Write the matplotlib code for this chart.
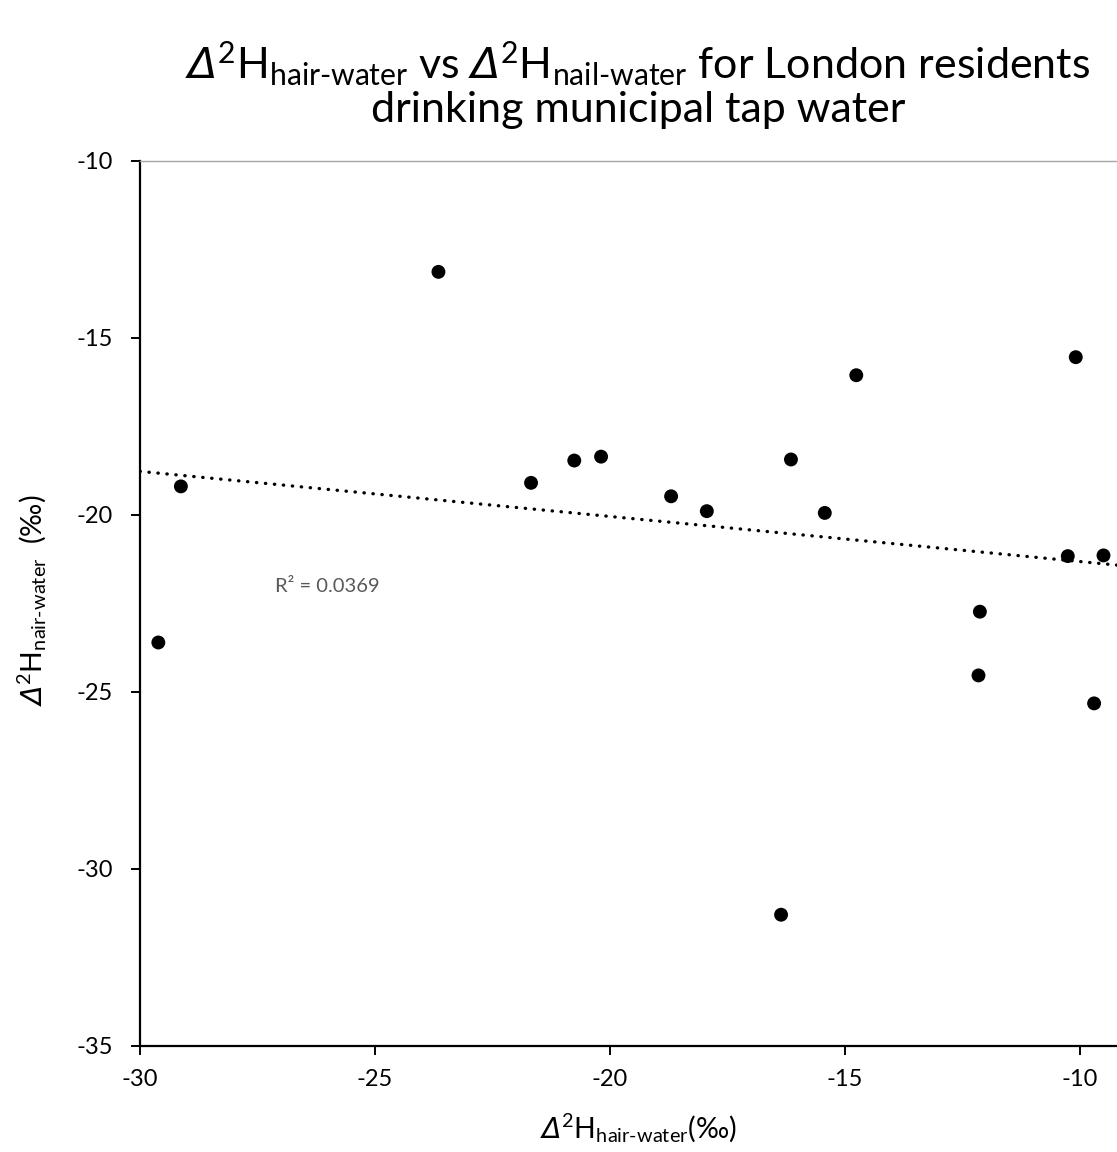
import matplotlib
matplotlib.use('Agg')
import matplotlib.pyplot as plt
import numpy as np

# Δ2H offsets (per mil) for London residents on municipal tap water
hair_water = [-23.65, -29.13, -29.61, -21.68, -20.76, -20.19, -18.70, -17.94, -16.15,
              -15.43, -14.76, -16.36, -10.09, -10.26, -9.50, -12.13, -12.16, -9.70]
nail_water = [-13.14, -19.20, -23.61, -19.10, -18.47, -18.36, -19.48, -19.90, -18.44,
              -19.95, -16.06, -31.30, -15.55, -21.17, -21.15, -22.74, -24.54, -25.33]

x_ticks = [-30, -25, -20, -15, -10]
y_ticks = [-35, -30, -25, -20, -15, -10]
r2_text = "R² = 0.0369"

plt.rcParams['font.family'] = ['Lato', 'DejaVu Sans']
plt.rcParams['mathtext.fontset'] = 'custom'
plt.rcParams['mathtext.rm'] = 'Lato'
plt.rcParams['mathtext.it'] = 'Lato:italic'
# slanted delta goes through the sf slot (mathtext keeps Greek capitals upright in 'it')
plt.rcParams['mathtext.sf'] = 'DejaVu Sans:oblique'
plt.rcParams['mathtext.bf'] = 'Lato:bold'
plt.rcParams['mathtext.fallback'] = 'stixsans'

W, H = 1117, 1152
fig = plt.figure(figsize=(W / 100, H / 100), dpi=100)
left, right, top, bottom = 140, 1117, 160.7, 1045.7
ax = fig.add_axes([left / W, 1 - bottom / H, (right - left) / W, (bottom - top) / H])

x = np.array(hair_water)
y = np.array(nail_water)

ax.set_xlim(-30, -30 + (right - left) / 47.0)
ax.set_ylim(-35, -10)

# linear trend line
slope, intercept = np.polyfit(x, y, 1)
xs = np.array(ax.get_xlim())
ax.plot(xs, slope * xs + intercept, color='black', lw=2.4,
        linestyle=(0, (0.1, 2.6)), dash_capstyle='round', zorder=2)

ax.scatter(x, y, s=100, color='black', edgecolors='none', zorder=3, clip_on=False)

ax.text(-27.13, -22.18, r2_text, color='#595959', fontsize=14.5,
        ha='left', va='baseline')

ax.set_xticks(x_ticks)
ax.set_yticks(y_ticks)
ax.set_xticklabels([str(v) for v in x_ticks])
ax.set_yticklabels([str(v) for v in y_ticks])
ax.tick_params(direction='out', length=6.5, width=1.4, colors='black',
               labelsize=17)
ax.tick_params(axis='x', pad=10)
ax.tick_params(axis='y', pad=13)

for side in ['left', 'bottom']:
    ax.spines[side].set_linewidth(1.6)
    ax.spines[side].set_color('black')
ax.spines['top'].set_linewidth(1.0)
ax.spines['top'].set_color('#a6a6a6')
ax.spines['right'].set_visible(False)

D = r"$\mathsf{Δ}^{2}$"
cx = 638 / W
fig.text(cx, 1 - 1128 / H,
         D + r"H$_{\text{hair-water}}$(‰)",
         ha='center', va='center', fontsize=20.5)
fig.text(32 / W, 1 - 600 / H,
         D + r"H$_{\text{nair-water}}$  (‰)",
         ha='center', va='center', rotation=90, fontsize=20.5)

fig.text(cx, 1 - 84 / H,
         D + r"H$_{\text{hair-water}}$ vs " + D + r"H$_{\text{nail-water}}$ for London residents"
         "\n" "drinking municipal tap water",
         ha='center', va='center', fontsize=31, linespacing=1.1)

fig.savefig('out.png', dpi=100)
